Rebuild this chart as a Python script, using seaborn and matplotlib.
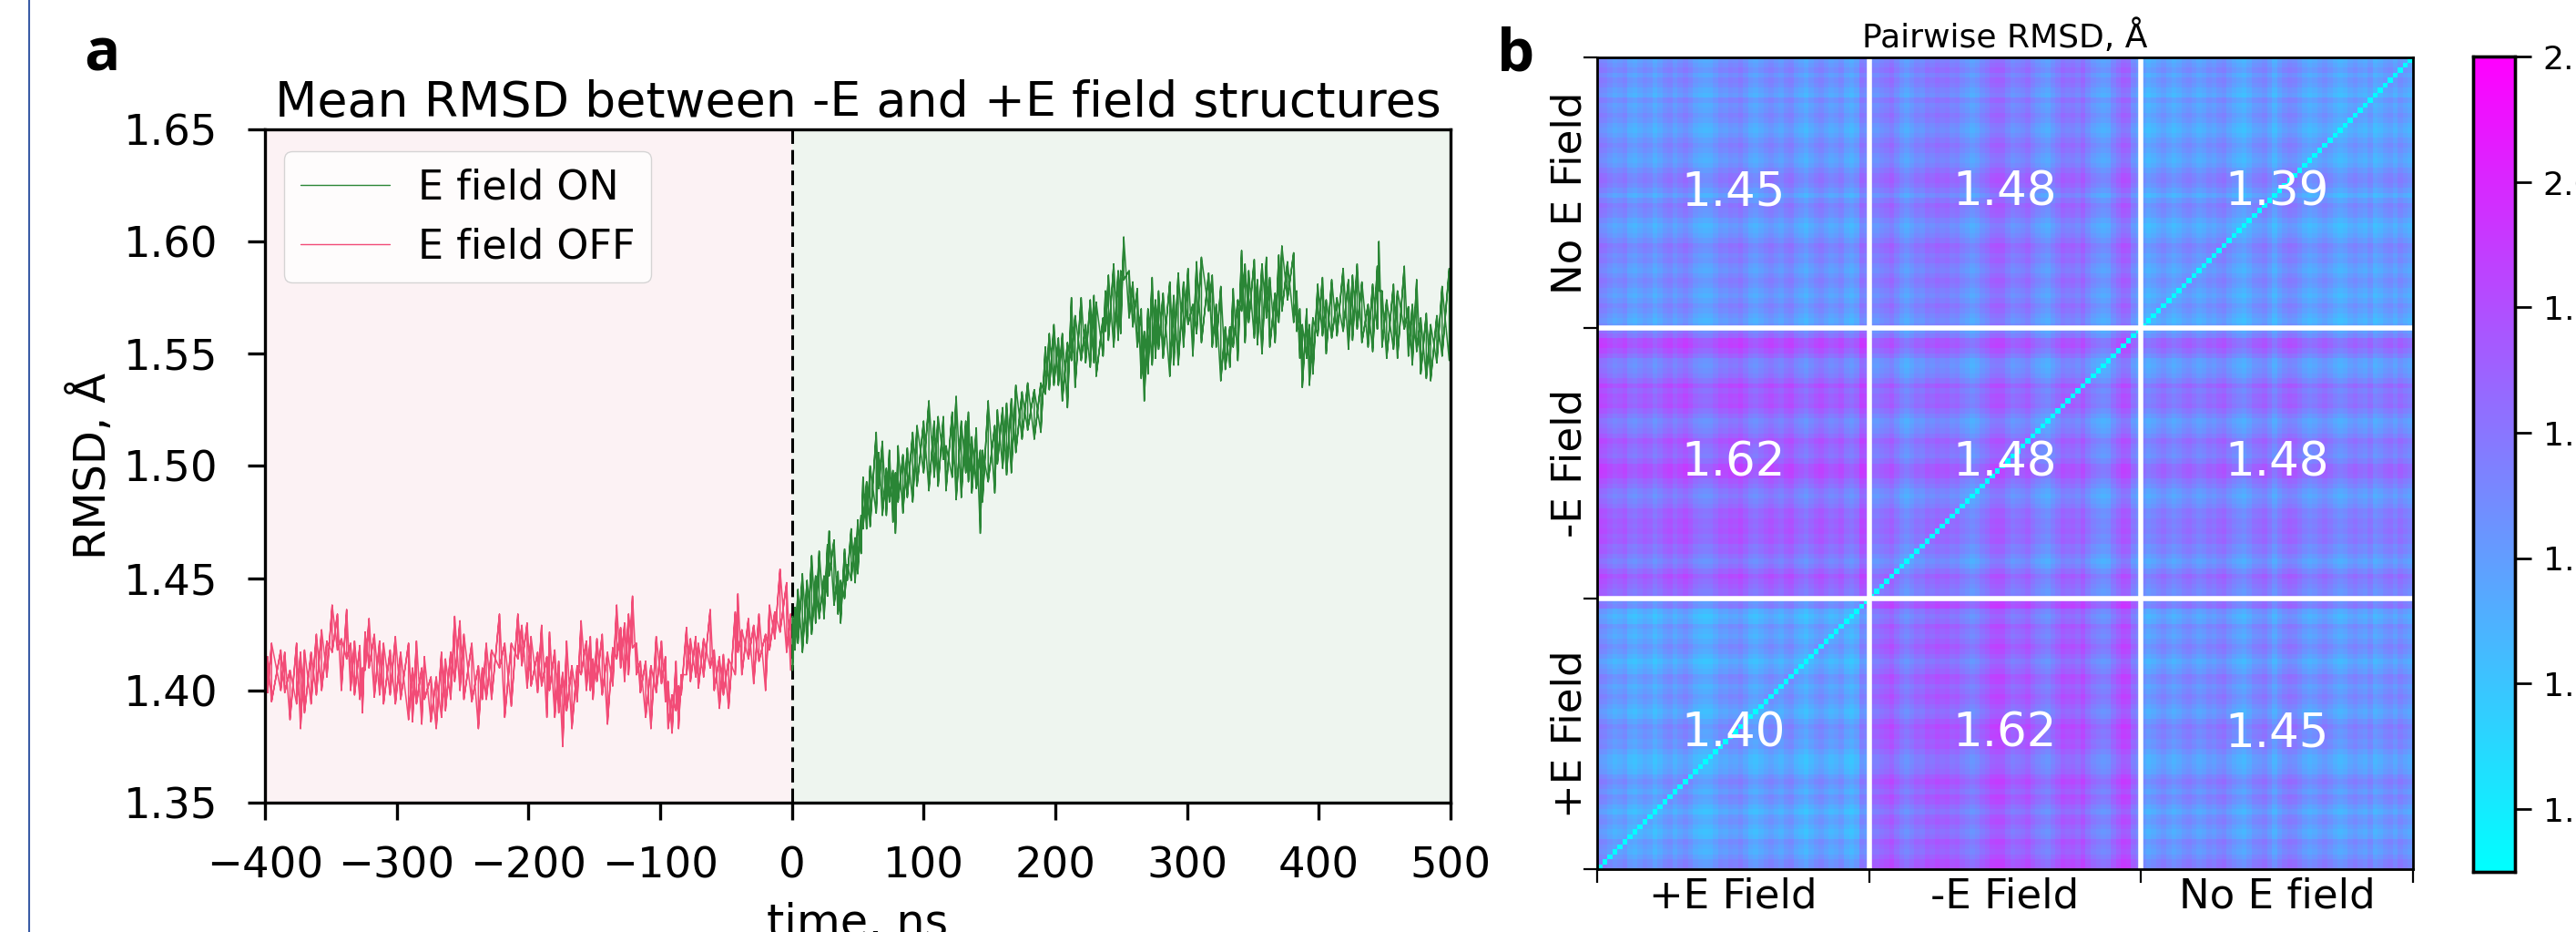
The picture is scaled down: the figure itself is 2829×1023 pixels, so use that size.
import numpy as np
import pandas as pd
import matplotlib
matplotlib.use("Agg")
import matplotlib.pyplot as plt
from matplotlib.lines import Line2D
import seaborn as sns

W, H = 2829, 1023

# panel a, spike envelopes (time in ns, RMSD in mA above 1 A)
off_time = [-398,-395,-388,-385,-381,-376,-373,-370,-365,-361,-357,-353,-349,-345,-342,-338,-335,-332,-328,-326,-324,-321,-317,-313,-310,-305,-301,-297,-291,-288,-285,-281,-279,-274,-270,-266,-263,-259,-256,-252,-249,-243,-238,-235,-232,-228,-222,-218,-213,-208,-205,-201,
            -198,-193,-190,-186,-184,-180,-177,-174,-171,-167,-163,-160,-156,-153,-151,-148,-144,-140,-136,-133,-130,-127,-124,-121,-118,-115,-111,-107,-103,-99,-96,-94,-91,-88,-86,-84,-80,-77,-73,-71,-67,-62,-59,-55,-52,-48,-43,-41,-38,-33,-29,-25,-20,-17,-13,-9,-4,-1]
off_hi = [415,421,418,417,409,421,417,418,417,425,427,422,438,434,423,436,421,422,420,410,426,432,425,422,421,418,424,417,421,410,422,410,415,406,406,417,414,417,433,431,425,421,411,410,421,418,434,421,421,434,429,430,
          424,417,429,415,426,418,413,408,422,411,411,431,422,424,414,423,425,417,419,438,428,430,434,442,421,413,413,411,424,422,415,404,398,413,402,407,428,423,424,421,423,436,418,415,416,414,435,443,427,432,429,434,425,438,435,454,448,434]
off_lo = [399,395,400,399,387,394,383,390,394,398,400,406,417,418,400,414,400,398,396,390,409,410,397,398,394,398,394,396,387,386,394,385,396,386,383,388,391,396,404,400,396,395,383,396,396,396,410,388,393,414,411,401,
          402,399,402,388,400,388,390,375,391,383,395,407,400,400,396,404,398,385,402,414,410,404,407,419,407,399,388,383,399,403,395,383,381,391,383,398,407,404,406,401,406,410,400,392,398,392,407,417,407,414,403,413,400,418,423,426,417,409]

on_time = [0.5,2.3,4.6,8,11.5,15,18,20.7,24.4,27,28.3,32,35,37,40,42,45,48,50,52.5,54,56.7,59.4,64,66,68.7,71.7,74,76.7,78.6,80.6,84.3,87.6,91.7,95,100,104,108,111,115,117,121.7,124.7,128.6,132,134,136.6,140,143,144.7,149,154,156,160,163,166.6,170,174.7,179,184,189,
           192.4,195.4,198.9,202.3,205.3,209.2,212.2,215,219.6,223,226.5,229.3,231,236.2,238,240.3,244.3,247.7,249.6,251.9,256,258.8,262.2,265.2,267.5,270.3,273.5,276,278.4,281.8,286.9,289.9,293.3,297.3,300.7,304.4,307.2,310.9,316.4,319.1,322.1,325.6,329,332.5,
           335,338.5,341.4,344,346.8,351,353.4,356.9,360.2,362.8,366.8,369.6,372,376.2,380.9,383.2,385.6,387.5,390.8,392.9,395.5,399.2,402.8,405.6,409.8,413.8,418.5,422.5,425.6,429.1,432.7,437.4,440.9,444.4,445.6,448,451.5,456.7,459.7,464.9,468,471,474.3,477.4,481.6,484.9,489.6,493.6,499]
on_hi = [433,437,445,452,449,460,451,462,451,465,471,467,453,449,463,456,472,468,476,478,495,493,500,515,506,511,499,507,498,497,509,505,508,515,518,520,529,520,522,522,509,524,531,520,520,524,513,517,507,507,529,518,525,526,528,530,536,533,537,534,537,
         553,559,563,557,559,555,575,567,575,563,574,576,573,566,578,585,590,587,587,602,587,582,579,570,560,570,584,574,578,577,582,576,586,582,588,572,591,593,586,585,572,580,562,562,
         579,574,596,590,587,592,583,590,593,584,577,594,598,591,595,578,570,563,570,563,566,581,584,574,583,575,588,583,585,590,582,572,581,589,600,578,574,581,578,589,571,572,583,566,568,563,567,580,588]
on_lo = [409,418,421,417,421,425,430,432,432,442,451,438,434,430,441,449,449,448,452,461,472,472,473,479,490,478,478,484,475,470,484,479,486,484,491,497,489,495,491,503,489,495,485,486,497,493,488,490,470,484,493,488,501,499,496,497,506,512,516,512,515,
         532,534,536,536,529,526,547,535,547,546,544,546,540,549,560,556,553,556,559,583,566,562,553,539,529,541,545,548,552,548,540,545,545,553,563,549,559,555,569,553,553,538,543,544,
         553,547,569,555,564,557,554,550,566,553,555,564,569,574,564,560,548,535,548,536,541,558,558,550,557,558,560,552,556,561,555,553,551,561,578,553,548,552,548,561,549,545,551,541,539,538,546,549,547]

legend_labels = ["E field ON", "E field OFF"]
a_yticks = [1.35, 1.40, 1.45, 1.50, 1.55, 1.60, 1.65]
a_xticks = [-400, -300, -200, -100, 0, 100, 200, 300, 400, 500]

# panel b, per frame stripes (hundredths of A), plus block means
groups = ["+E Field", "-E Field", "No E field"]
ylabels = ["+E Field", "-E Field", "No E Field"]
block_means = [[1.40, 1.62, 1.45],
               [1.62, 1.48, 1.48],
               [1.45, 1.48, 1.39]]
stripe_plus = [10,8,2,-3,0,4,-6,-9,-4,1,-2,-10,-4,3,6,-2,4,9,3,-5,-8,-10,-9,-3,4,2,7,5,10,3,-5,-8,-3,2,6,1,-3,4,7,-2,-6,-11,-4,2,6,0,-5,-2,3,-7,-11,-5,12,8]
stripe_minus = [3,2,6,9,14,5,-4,-9,-3,4,2,10,7,12,9,11,6,8,0,-4,-9,-5,3,8,17,19,18,9,2,5,8,13,4,-2,-6,-9,-1,6,14,11,13,8,16,5,-3,-7,-10,-8,4,12,20,18,2,-6]
stripe_none = [-3,-8,-4,1,5,-1,-6,-2,4,7,2,-3,0,6,3,9,12,4,-2,-6,-9,-3,5,7,11,3,-7,2,9,13,11,5,-2,-6,-3,2,6,1,-5,-9,-6,0,4,-1,-4,3,-8,-4,2,5,-2,6,1,-3]
diagonal_value = 0.9
cbar_ticks = [1.0, 1.2, 1.4, 1.6, 1.8, 2.0, 2.2]

sns.set_theme(style="ticks", rc={"axes.linewidth": 2.4, "text.color": "black", "axes.labelcolor": "black",
                                 "xtick.color": "black", "ytick.color": "black", "axes.edgecolor": "black"})
plt.rcParams["font.family"] = ["DejaVu Sans"]


def px_axes(fig, left, top, right, bottom):
    return fig.add_axes([left / W, 1 - bottom / H, (right - left) / W, (bottom - top) / H])


def spikes(times, hi, lo):
    # up and down strokes per slot, then back and forth on the crossing strokes so the band fills in
    hi = np.array(hi)
    lo = np.array(lo)
    times = np.array(times)
    even = np.arange(len(hi)) % 2 == 0
    zig = np.where(even, hi, lo)
    zag = np.where(even, lo, hi)
    t = np.concatenate([np.repeat(times, 2), times[::-1], times])
    y = np.concatenate([np.column_stack([hi, lo]).ravel(), zig[::-1], zag])
    return pd.DataFrame({"time": t, "rmsd": 1 + y / 1000})


fig = plt.figure(figsize=(W / 100, H / 100), dpi=100)
fig.add_artist(Line2D([31.5 / W, 31.5 / W], [0, 1], color="#3a5ca6", lw=1.5))

# panel a
ax = px_axes(fig, 291, 142, 1593, 881)
ax.axvspan(-400, 0, color="#fcf2f4", lw=0)
ax.axvspan(0, 500, color="#eef5ef", lw=0)
ax.axvline(0, color="black", lw=2.2, dashes=(5.2, 2.2), zorder=1.5)
sns.lineplot(data=spikes(on_time, on_hi, on_lo), x="time", y="rmsd", color="#2a8636", lw=1.1,
             estimator=None, sort=False, label=legend_labels[0], ax=ax)
sns.lineplot(data=spikes(off_time, off_hi, off_lo), x="time", y="rmsd", color="#f24c77", lw=1.1,
             estimator=None, sort=False, label=legend_labels[1], ax=ax)
ax.set_xlim(-400, 500)
ax.set_ylim(1.35, 1.65)
ax.set_xticks(a_xticks)
ax.set_yticks(a_yticks)
ax.set_yticklabels([f"{v:.2f}" for v in a_yticks])
ax.tick_params(length=14, width=2.4, labelsize=33.5, color="black")
ax.tick_params(axis="y", pad=23)
ax.tick_params(axis="x", pad=20)
ax.set_title("Mean RMSD between -E and +E field structures", fontsize=38.7, pad=10)
ax.set_xlabel("time, ns", fontsize=35.5)
ax.set_ylabel("RMSD, Å", fontsize=34.5)
ax.xaxis.set_label_coords(0.5, -0.148)
ax.yaxis.set_label_coords(-0.127, 0.5)
leg = ax.legend(loc="upper left", fontsize=32, bbox_to_anchor=(0.006, 0.985), borderaxespad=0.3,
                handlelength=2.2, handletextpad=0.7, labelspacing=0.5, frameon=True)
for line in leg.get_lines():
    line.set_linewidth(1.0)

# panel b
stripes = np.array(stripe_plus + stripe_minus + stripe_none) / 100
n = len(stripe_plus)
means = np.kron(np.array(block_means), np.ones((n, n)))
pairwise = means + stripes[:, None] + stripes[None, :]
np.fill_diagonal(pairwise, diagonal_value)

hm_ax = px_axes(fig, 1754, 63, 2650, 954)
cb_ax = px_axes(fig, 2716, 62, 2762, 957)
sns.heatmap(pairwise, cmap="cool", vmin=0.9, vmax=2.2, ax=hm_ax, cbar_ax=cb_ax,
            xticklabels=False, yticklabels=False, cbar_kws={"ticks": cbar_ticks})
hm_ax.invert_yaxis()
for spine in hm_ax.spines.values():
    spine.set_visible(True)
    spine.set_linewidth(2)
for k in (n, 2 * n):
    hm_ax.axhline(k, color="white", lw=4)
    hm_ax.axvline(k, color="white", lw=4)
edges = [0, n, 2 * n, 3 * n]
centers = [n / 2, 3 * n / 2, 5 * n / 2]
hm_ax.set_xticks(edges)
hm_ax.set_yticks(edges)
hm_ax.set_xticklabels([])
hm_ax.set_yticklabels([])
hm_ax.set_xticks(centers, minor=True)
hm_ax.set_yticks(centers, minor=True)
hm_ax.set_xticklabels(groups, minor=True)
hm_ax.set_yticklabels(ylabels, minor=True, rotation=90, va="center")
hm_ax.tick_params(which="major", length=11, width=1.6, color="black", left=True, bottom=True)
hm_ax.tick_params(which="minor", length=0, labelsize=32.5, pad=6)
hm_ax.set_title("Pairwise RMSD, Å", fontsize=26, pad=8)
for i, row in enumerate(block_means):
    for j, v in enumerate(row):
        hm_ax.text(centers[j], centers[i], f"{v:.2f}", color="white", fontsize=37, ha="center", va="center")

cb_ax.tick_params(length=13, width=2, labelsize=26, pad=9, color="black", right=True)
for spine in cb_ax.spines.values():
    spine.set_visible(True)
    spine.set_linewidth(2.4)

fig.text(92 / W, 1 - 77 / H, "a", fontsize=47, fontweight="bold", family="Open Sans")
fig.text(1644 / W, 1 - 77 / H, "b", fontsize=47, fontweight="bold", family="Open Sans")

fig.savefig("out.png", dpi=100)
